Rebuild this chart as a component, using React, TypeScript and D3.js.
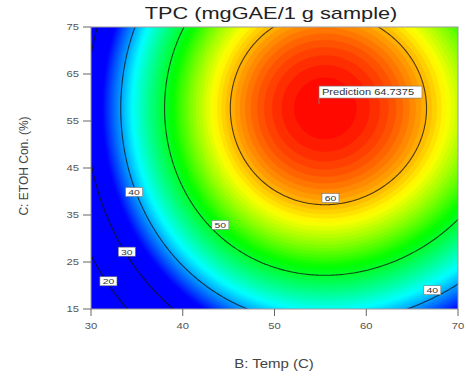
import { useMemo } from "react";
import * as d3 from "d3";

const tempTicks = [30, 40, 50, 60, 70];
const etohTicks = [15, 25, 35, 45, 55, 65, 75];
const contourLevels = [20, 30, 40, 50, 60];

// fitted response surface in coded units: B = (T-50)/20, C = (E-45)/30
const centreCoded = [0.275, 0.423];
const coefNames = ["intercept", "B^2", "B^3", "C^2"];
const coefValues = [65.0, -17.6, 2.32, -10.7];

// contour label spots (Temp, EtOH) as placed on the original plot
const labelLevels = [20, 30, 40, 50, 60, 40];
const labelTemps = [31.9, 33.9, 34.7, 44.1, 56.1, 67.2];
const labelEtoh = [20.9, 27.2, 39.9, 32.9, 38.6, 19.0];

const predTemp = 54.85;
const predEtoh = 58.6;
const predValue = "64.7375";

const colorStops = [35, 43, 51.5, 58, 65];
const colorRange = ["#0000ff", "#00ffff", "#00ff00", "#ffff00", "#ff0000"];

const W = 466;
const H = 380;
const margin = { top: 27, right: 8, bottom: 71, left: 91 };
const FONT = "'Liberation Sans', Arial, sans-serif";

function tpc(t: number, e: number) {
  const d = (t - 50) / 20 - centreCoded[0];
  const c = (e - 45) / 30 - centreCoded[1];
  return coefValues[0] + coefValues[1] * d * d + coefValues[2] * d * d * d + coefValues[3] * c * c;
}

export default function App() {
  const x = d3.scaleLinear().domain([30, 70]).range([margin.left, W - margin.right]);
  const y = d3.scaleLinear().domain([15, 75]).range([H - margin.bottom, margin.top]);
  const color = d3.scaleLinear<string>().domain(colorStops).range(colorRange).clamp(true);

  const { bands, lines } = useMemo(() => {
    const nx = 201, ny = 151;
    const stepT = 40 / (nx - 1), stepE = 60 / (ny - 1);
    const values: number[] = new Array(nx * ny);
    for (let j = 0; j < ny; j++) {
      for (let i = 0; i < nx; i++) {
        values[j * nx + i] = tpc(30 + i * stepT, 75 - j * stepE);
      }
    }
    // grid index i sits at contour coordinate i + 0.5
    const proj = d3.geoTransform({
      point(gx: number, gy: number) {
        this.stream.point(x(30 + (gx - 0.5) * stepT), y(75 - (gy - 0.5) * stepE));
      },
    });
    const path = d3.geoPath(proj);
    const steps = d3.range(0, 65.5, 0.5);
    const bands = d3.contours().size([nx, ny]).thresholds(steps)(values)
      .map((c) => ({ d: path(c) || "", fill: color(c.value + 0.25) }));
    const lines = d3.contours().size([nx, ny]).thresholds(contourLevels)(values).map((c) => path(c) || "");
    return { bands, lines };
  }, []);

  const px = x(predTemp);
  const py = y(predEtoh);

  return (
    <svg width={W} height={H} style={{ position: "absolute", left: 0, top: 0, background: "#fff" }} fontFamily={FONT}>
      <defs>
        <clipPath id="plot">
          <rect x={margin.left} y={margin.top} width={x(70) - x(30)} height={y(15) - y(75)} />
        </clipPath>
      </defs>

      <text transform={`translate(271,19) scale(1.28,1)`} textAnchor="middle" fontSize={17} fill="#222">
        TPC (mgGAE/1 g sample)
      </text>

      <g clipPath="url(#plot)">
        {bands.map((b, i) => (
          <path key={i} d={b.d} fill={b.fill} stroke={b.fill} strokeWidth={0.5} />
        ))}
        {lines.map((d, i) => (
          <path key={i} d={d} fill="none" stroke="#111" strokeOpacity={0.75} strokeWidth={1.1} />
        ))}
      </g>
      <rect x={margin.left} y={margin.top} width={x(70) - x(30)} height={y(15) - y(75)} fill="none" stroke="#999" strokeWidth={1} />

      {labelLevels.map((lv, i) => {
        const lx = x(labelTemps[i]);
        const ly = y(labelEtoh[i]);
        return (
          <g key={i}>
            <rect x={lx - 8.5} y={ly - 4.5} width={17} height={9} fill="#fff" stroke="#777" strokeWidth={0.6} />
            <text transform={`translate(${lx},${ly + 3}) scale(1.3,1)`} textAnchor="middle" fontSize={8} fill="#333">
              {lv}
            </text>
          </g>
        );
      })}

      <line x1={px} x2={px} y1={py} y2={py - 6} stroke="#888" strokeWidth={0.8} />
      <rect x={px} y={py - 18} width={103} height={12} fill="#fff" stroke="#777" strokeWidth={0.6} />
      <text transform={`translate(${px + 3},${py - 9}) scale(1.3,1)`} fontSize={8.5} fill="#333">
        Prediction {predValue}
      </text>

      {tempTicks.map((t) => (
        <g key={t}>
          <line x1={x(t)} x2={x(t)} y1={y(15)} y2={y(15) + 7} stroke="#666" />
          <text transform={`translate(${x(t)},${y(15) + 20}) scale(1.25,1)`} textAnchor="middle" fontSize={9} fill="#555">
            {t}
          </text>
        </g>
      ))}
      {etohTicks.map((e) => (
        <g key={e}>
          <line x1={x(30) - 8} x2={x(30)} y1={y(e)} y2={y(e)} stroke="#666" />
          <text transform={`translate(${x(30) - 12},${y(e) + 3}) scale(1.25,1)`} textAnchor="end" fontSize={9} fill="#555">
            {e}
          </text>
        </g>
      ))}

      <text transform={`translate(274,368) scale(1.25,1)`} textAnchor="middle" fontSize={12} fill="#444">
        B: Temp (C)
      </text>
      <text transform={`translate(28,166) rotate(-90)`} textAnchor="middle" fontSize={12} fill="#444">
        C: ETOH Con. (%)
      </text>
    </svg>
  );
}
